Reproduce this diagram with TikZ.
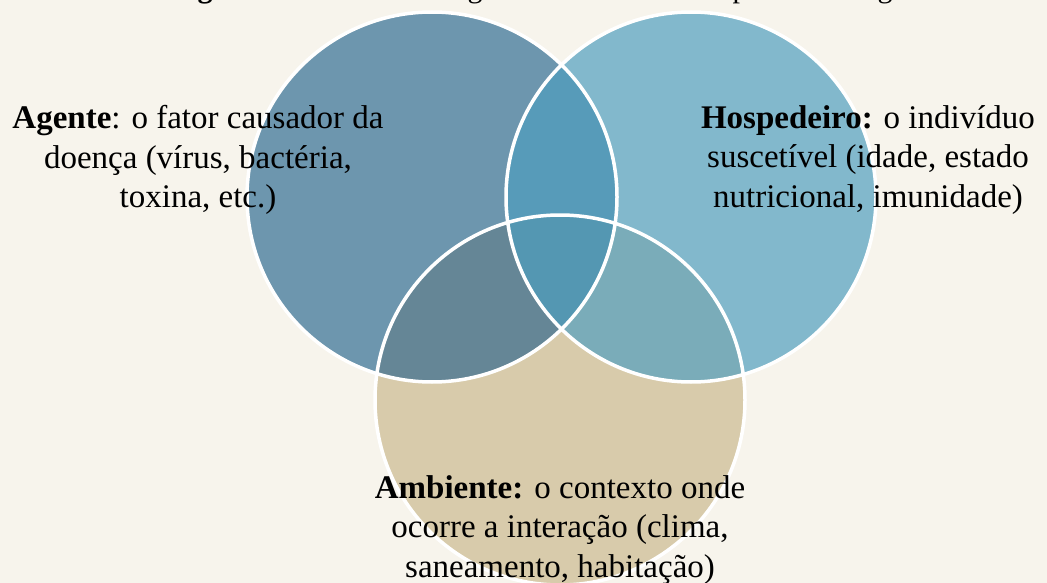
\documentclass[tikz,border=0pt]{standalone}
\usepackage{fontspec}
\setmainfont{Liberation Serif}
\begin{document}
\begin{tikzpicture}[x=1pt,y=-1pt,
  ring/.style={draw=white,line width=3.5pt},
  lbl/.style={align=center,font=\fontsize{33}{39.5}\selectfont,text=black,inner sep=0pt},
  frag/.style={anchor=base,font=\fontsize{30}{39}\selectfont,inner sep=0pt}]
\definecolor{bg}{HTML}{F7F4EC}
\definecolor{cA}{HTML}{6D96AE}
\definecolor{cH}{HTML}{82B8CC}
\definecolor{cE}{HTML}{D8CBAB}
\definecolor{cAH}{HTML}{579BB9}
\definecolor{cAE}{HTML}{658696}
\definecolor{cHE}{HTML}{7AACB9}
\definecolor{cAHE}{HTML}{5497B2}
\fill[bg] (0,0) rectangle (1047,583);
\useasboundingbox (0,0) rectangle (1047,583);
% circle centres
\coordinate (A) at (432,197);
\coordinate (H) at (691,197);
\coordinate (E) at (560,400);
% fills
\fill[cA] (A) circle (185);
\fill[cH] (H) circle (185);
\fill[cE] (E) circle (185);
\begin{scope}\clip (A) circle (185); \fill[cAH] (H) circle (185); \end{scope}
\begin{scope}\clip (A) circle (185); \fill[cAE] (E) circle (185); \end{scope}
\begin{scope}\clip (H) circle (185); \fill[cHE] (E) circle (185); \end{scope}
\begin{scope}\clip (A) circle (185); \clip (H) circle (185); \fill[cAHE] (E) circle (185); \end{scope}
% outlines
\draw[ring] (A) circle (185);
\draw[ring] (H) circle (185);
\draw[ring] (E) circle (185);
% cut-off heading fragments
\node[frag] (f1) at (205,-2) {\bfseries g};
\node[frag] (f2) at (475,-2) {g};
\node[frag] (f3) at (740,-2) {p};
\node[frag] (f4) at (885,-2) {g};
% labels
\node[lbl] (tA) at (198,160) {\textbf{Agente}: o fator causador da\\doença (vírus, bactéria,\\toxina, etc.)};
\node[lbl] (tH) at (868,160) {\textbf{Hospedeiro:} o indivíduo\\suscetível (idade, estado\\nutricional, imunidade)};
\node[lbl] (tE) at (560,530) {\textbf{Ambiente:} o contexto onde\\ocorre a interação (clima,\\saneamento, habitação)};
\end{tikzpicture}
\end{document}
